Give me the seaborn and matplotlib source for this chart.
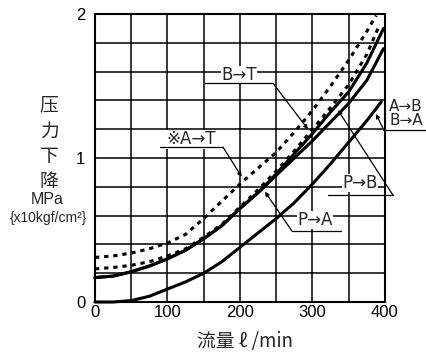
import matplotlib
matplotlib.use("Agg")
import matplotlib.pyplot as plt
import seaborn as sns
import pandas as pd

# ---------------- data ----------------
flow_AT = [0, 25, 50, 75, 100, 125, 150, 175, 200, 225, 250, 275, 300, 325, 350, 375, 388]
dp_AT = [0.31, 0.32, 0.34, 0.37, 0.41, 0.47, 0.58, 0.70, 0.82, 0.93, 1.04, 1.18, 1.33, 1.50, 1.68, 1.88, 1.99]

flow_BT = [0, 25, 50, 75, 100, 125, 150, 175, 200, 225, 250, 275, 300, 325, 350, 375, 393]
dp_BT = [0.23, 0.24, 0.255, 0.28, 0.32, 0.37, 0.45, 0.54, 0.66, 0.78, 0.91, 1.05, 1.20, 1.35, 1.51, 1.72, 1.93]

flow_PB = [0, 25, 50, 75, 100, 125, 150, 175, 200, 225, 250, 275, 300, 325, 350, 375, 398]
dp_PB = [0.17, 0.18, 0.21, 0.25, 0.30, 0.36, 0.44, 0.53, 0.65, 0.76, 0.89, 1.03, 1.17, 1.32, 1.46, 1.66, 1.90]

flow_PA = [0, 25, 50, 75, 100, 125, 150, 175, 200, 225, 250, 275, 300, 325, 350, 375, 398]
dp_PA = [0.17, 0.18, 0.21, 0.25, 0.30, 0.36, 0.44, 0.53, 0.65, 0.76, 0.88, 1.00, 1.12, 1.25, 1.38, 1.54, 1.76]

flow_AB = [0, 25, 50, 75, 100, 125, 150, 175, 200, 225, 250, 275, 300, 325, 350, 375, 395]
dp_AB = [0.0, 0.0, 0.01, 0.04, 0.09, 0.14, 0.20, 0.28, 0.38, 0.48, 0.58, 0.69, 0.82, 0.96, 1.11, 1.26, 1.39]

x_tick_values = [0, 100, 200, 300, 400]
x_tick_labels = ["0", "100", "200", "300", "400"]
y_tick_values = [0, 1, 2]
y_tick_labels = ["0", "1", "2"]

ylabel_chars = ["压", "力", "下", "降"]
ylabel_unit = "MPa"
ylabel_unit2 = "{x10kgf/cm²}"
xlabel_text = "流量 ℓ /min"

# ---------------- styling ----------------
sns.set_theme(style="white")
plt.rcParams["font.family"] = ["Liberation Sans", "DejaVu Sans", "Noto Sans CJK JP"]
cjk = ["Noto Sans CJK JP", "DejaVu Sans"]
lat = ["Liberation Sans", "DejaVu Sans", "Noto Sans CJK JP"]
arrowfont = ["DejaVu Sans", "Noto Sans CJK JP"]

fig = plt.figure(figsize=(4.27, 3.52), dpi=100)
ax = fig.add_axes([0.2225, 0.142, 0.679, 0.818])

series = [
    (flow_AT, dp_AT, (0, (1.4, 1.6))),
    (flow_BT, dp_BT, (0, (1.4, 1.6))),
    (flow_PB, dp_PB, "-"),
    (flow_PA, dp_PA, "-"),
    (flow_AB, dp_AB, "-"),
]
for fx, fy, ls in series:
    df = pd.DataFrame({"flow": fx, "dp": fy})
    sns.lineplot(data=df, x="flow", y="dp", ax=ax, color="black",
                 linewidth=2.2, linestyle=ls, sort=False, estimator=None,
                 clip_on=False, zorder=3)

ax.set_xlim(0, 400)
ax.set_ylim(0, 2)
ax.set_xticks(x_tick_values)
ax.set_xticklabels(x_tick_labels)
ax.set_yticks(y_tick_values)
ax.set_yticklabels(y_tick_labels)
ax.set_xticks(list(range(0, 401, 50)), minor=True)
ax.set_yticks([i * 0.2 for i in range(11)], minor=True)
ax.grid(which="both", color="black", linewidth=1.1)
ax.set_axisbelow(True)
ax.tick_params(axis="both", which="both", length=0, labelsize=12, colors="black")
ax.tick_params(axis="x", pad=2)
ax.tick_params(axis="y", pad=7)
for lab in ax.get_xticklabels() + ax.get_yticklabels():
    lab.set_family(lat)
for sp in ax.spines.values():
    sp.set_color("black")
    sp.set_linewidth(1.5)
    sp.set_visible(True)
ax.set_xlabel("")
ax.set_ylabel("")

# ---------------- axis titles ----------------
for ch, yy in zip(ylabel_chars, [0.702, 0.628, 0.554, 0.483]):
    fig.text(0.115, yy, ch, family=cjk, fontsize=13.5, ha="center", va="center")
fig.text(0.110, 0.432, ylabel_unit, family=lat, fontsize=11.5, ha="center", va="center")
fig.text(0.113, 0.381, ylabel_unit2, family=lat, fontsize=10, ha="center", va="center")
fig.text(0.574, 0.031, xlabel_text, family=cjk, fontsize=13.5, ha="center", va="center")

# ---------------- curve labels with leaders ----------------
lw_lead = 0.9
def label(tx, ty, s, ux0, ux1, uy, tip_from, tip_to, fs=12):
    ax.text(tx, ty, s, family=arrowfont, fontsize=fs, ha="center", va="center",
            zorder=5, clip_on=False,
            bbox=dict(facecolor="white", edgecolor="none", pad=0.2))
    ax.plot([ux0, ux1], [uy, uy], color="black", lw=lw_lead, clip_on=False, zorder=5)
    ax.annotate("", xy=tip_to, xytext=tip_from, annotation_clip=False,
                arrowprops=dict(arrowstyle="-|>", color="black", lw=lw_lead,
                                mutation_scale=6, shrinkA=0, shrinkB=0),
                zorder=5)

label(198.6, 1.576, "B→T", 152, 245.5, 1.52, (245.5, 1.52), (293.8, 1.20))
label(132.4, 1.13, "※A→T", 89.7, 176.6, 1.076, (176.6, 1.076), (202.3, 0.87))
label(303.4, 0.569, "P→A", 271.7, 339.3, 0.493, (271.7, 0.493), (234.5, 0.766))
label(365.5, 0.826, "P→B", 321.4, 411, 0.743, (411, 0.743), (335.2, 1.333))
ax.text(429, 1.36, "A→B", family=arrowfont, fontsize=11, ha="center", va="center", clip_on=False)
label(430, 1.262, "B→A", 397, 458, 1.194, (397, 1.21), (387.6, 1.306), fs=11)

fig.savefig("out.png", dpi=100, facecolor="white")
